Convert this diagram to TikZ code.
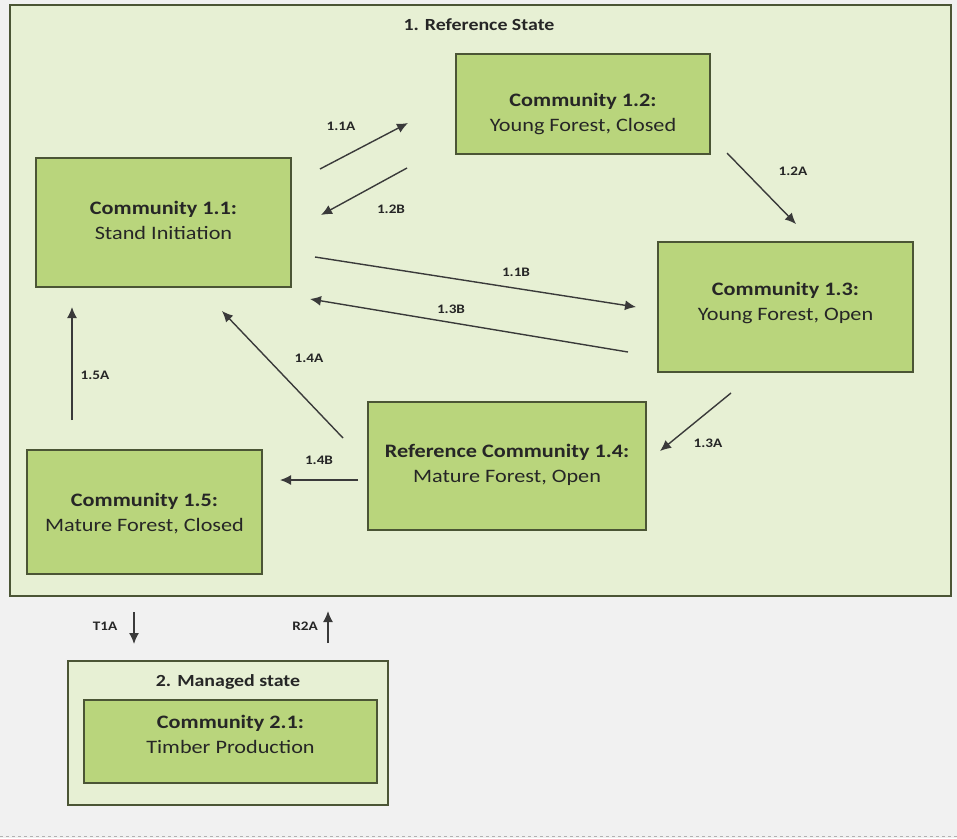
\documentclass[tikz,border=0pt]{standalone}
\usepackage{fontspec}
\usepackage{graphicx}
\setmainfont{Carlito}
\usetikzlibrary{arrows.meta}
\definecolor{bg}{HTML}{F1F1F1}
\definecolor{statefill}{HTML}{E7F0D4}
\definecolor{commfill}{HTML}{B9D57C}
\definecolor{edge}{HTML}{4B5535}
\definecolor{arr}{HTML}{3A3A3A}
\definecolor{txt}{HTML}{262626}
\newcommand{\hs}[1]{\scalebox{1.17}[1]{#1}}
\tikzset{
  statebox/.style={draw=edge, line width=1.3pt, fill=statefill, rectangle, inner sep=0pt},
  commbox/.style={draw=edge, line width=1.3pt, fill=commfill, rectangle, inner sep=0pt},
  commtext/.style={align=center, text=txt, font=\fontsize{19}{25}\selectfont, inner sep=0pt},
  titletext/.style={text=txt, font=\fontsize{17}{20}\selectfont\bfseries, inner sep=0pt},
  trans/.style={draw=arr, line width=1.4pt, -{Latex[length=11pt,width=10pt]}},
  tlabel/.style={text=txt, font=\fontsize{13}{15}\selectfont\bfseries, inner sep=0pt}
}
\begin{document}
\begin{tikzpicture}[x=1pt,y=-1pt]
\fill[bg] (0,0) rectangle (957,838);
\useasboundingbox (0,0) rectangle (957,838);
\draw[gray!60, dashed, line width=1pt] (0,836) -- (957,836);

% state 1
\node[statebox, minimum width=941pt, minimum height=591pt] (s1) at (480.5,300.5) {};
\node[titletext] (s1t) at (479,25) {\hs{1. Reference State}};

% communities
\node[commbox, minimum width=254pt, minimum height=100pt] (c12) at (583,104) {};
\node[commtext] (c12t) at (583,114) {\hs{\textbf{Community 1.2:}}\\\hs{Young Forest, Closed}};

\node[commbox, minimum width=255pt, minimum height=129pt] (c11) at (163.5,222.5) {};
\node[commtext] (c11t) at (163.5,220) {\hs{\textbf{Community 1.1:}}\\\hs{Stand Initiation}};

\node[commbox, minimum width=255pt, minimum height=130pt] (c13) at (785.5,307) {};
\node[commtext] (c13t) at (785.5,303) {\hs{\textbf{Community 1.3:}}\\\hs{Young Forest, Open}};

\node[commbox, minimum width=278pt, minimum height=128pt] (c14) at (507,466) {};
\node[commtext] (c14t) at (507,465) {\hs{\textbf{Reference Community 1.4:}}\\\hs{Mature Forest, Open}};

\node[commbox, minimum width=235pt, minimum height=124pt] (c15) at (144.5,512) {};
\node[commtext] (c15t) at (144.5,514) {\hs{\textbf{Community 1.5:}}\\\hs{Mature Forest, Closed}};

% state 2
\node[statebox, minimum width=320pt, minimum height=144pt] (s2) at (228,733) {};
\node[titletext] (s2t) at (228,682) {\hs{2. Managed state}};
\node[commbox, minimum width=293pt, minimum height=83pt] (c21) at (230.5,741.5) {};
\node[commtext] (c21t) at (230.5,734) {\hs{\textbf{Community 2.1:}}\\\hs{Timber Production}};

% transition end points
\coordinate (a11s) at (320,169); \coordinate (a11e) at (408,123);
\coordinate (a12bs) at (407,168); \coordinate (a12be) at (321,215);
\coordinate (a12s) at (727,153); \coordinate (a12e) at (796,224);
\coordinate (a11bs) at (315,257); \coordinate (a11be) at (636,307);
\coordinate (a13bs) at (628,352); \coordinate (a13be) at (310,299);
\coordinate (a13s) at (731,393); \coordinate (a13e) at (660,451);
\coordinate (a14s) at (343,438); \coordinate (a14e) at (222,311);
\coordinate (a15s) at (72,420); \coordinate (a15e) at (72,307);
\coordinate (a14bs) at (358,480); \coordinate (a14be) at (280,480);
\coordinate (t1s) at (134,612); \coordinate (t1e) at (134,644);
\coordinate (r2s) at (328,643); \coordinate (r2e) at (328,611);

\draw[trans] (a11s) -- (a11e);
\draw[trans] (a12bs) -- (a12be);
\draw[trans] (a12s) -- (a12e);
\draw[trans] (a11bs) -- (a11be);
\draw[trans] (a13bs) -- (a13be);
\draw[trans] (a13s) -- (a13e);
\draw[trans] (a14s) -- (a14e);
\draw[trans] (a15s) -- (a15e);
\draw[trans] (a14bs) -- (a14be);
\draw[trans] (t1s) -- (t1e);
\draw[trans] (r2s) -- (r2e);

% labels
\node[tlabel] (l11a) at (341,126) {\hs{1.1A}};
\node[tlabel] (l12b) at (391,209) {\hs{1.2B}};
\node[tlabel] (l12a) at (793,171) {\hs{1.2A}};
\node[tlabel] (l11b) at (516,272) {\hs{1.1B}};
\node[tlabel] (l13b) at (451,309) {\hs{1.3B}};
\node[tlabel] (l13a) at (708,443) {\hs{1.3A}};
\node[tlabel] (l14a) at (309,358) {\hs{1.4A}};
\node[tlabel] (l15a) at (95,375) {\hs{1.5A}};
\node[tlabel] (l14b) at (319,460) {\hs{1.4B}};
\node[tlabel] (lt1a) at (105,626) {\hs{T1A}};
\node[tlabel] (lr2a) at (305,626) {\hs{R2A}};
\end{tikzpicture}
\end{document}
